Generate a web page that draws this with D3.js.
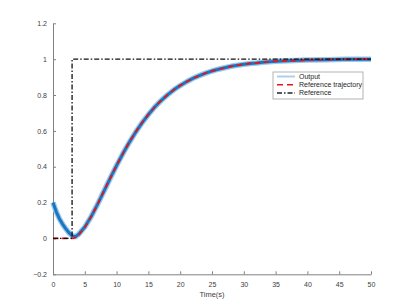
<!DOCTYPE html>
<html>
<head>
<meta charset="utf-8">
<script src="https://cdn.jsdelivr.net/npm/d3@7"></script>
<style>
  body { margin: 0; background: #fff; }
  svg { font-family: "Liberation Sans", Arial, sans-serif; }
  .axis path, .axis line { stroke: #808080; }
  .axis text { fill: #404040; font-size: 7px; }
</style>
</head>
<body>
<div id="chart"></div>
<script>
// Data________________________________________________________
const trajTime = [0, 1, 2, 3, 4, 5, 6, 7, 8, 9, 10, 11, 12, 13, 14, 15, 16, 17, 18, 19, 20,
    21, 22, 23, 24, 25, 26, 27, 28, 29, 30, 31, 32, 33, 35, 37, 40, 43, 46, 50];
const trajValue = [0, 0, 0, 0, 0.018, 0.062, 0.122, 0.191, 0.264, 0.337, 0.408, 0.475, 0.537,
    0.594, 0.645, 0.692, 0.733, 0.769, 0.801, 0.829, 0.853, 0.874, 0.893, 0.908, 0.922,
    0.934, 0.944, 0.952, 0.960, 0.966, 0.971, 0.976, 0.979, 0.983, 0.988, 0.991, 0.995,
    0.997, 0.999, 1.0];

const outTime = [0, 0.5, 1, 1.5, 2, 2.5, 3, 3.5, 4, 5, 6, 7, 8, 9, 10, 11, 12, 13, 14, 15, 16,
    17, 18, 19, 20, 21, 22, 23, 24, 25, 26, 27, 28, 29, 30, 31, 32, 33, 35, 37, 40, 43, 46, 50];
const outValue = [0.2, 0.15, 0.11, 0.08, 0.055, 0.032, 0.015, 0.01, 0.022, 0.064, 0.122, 0.19,
    0.263, 0.336, 0.407, 0.474, 0.536, 0.593, 0.645, 0.691, 0.733, 0.769, 0.801, 0.829, 0.853,
    0.874, 0.893, 0.908, 0.922, 0.934, 0.944, 0.952, 0.960, 0.966, 0.971, 0.976, 0.979, 0.983,
    0.988, 0.991, 0.995, 0.997, 0.999, 1.0];

const refTime = [0, 3, 3, 50];
const refValue = [0, 0, 1, 1];

const xTicks = [0, 5, 10, 15, 20, 25, 30, 35, 40, 45, 50];
const yTicks = [-0.2, 0, 0.2, 0.4, 0.6, 0.8, 1, 1.2];
const legendLabels = ["Output", "Reference trajectory", "Reference"];

// Layout______________________________________________________
const width = 410, height = 308;
const plotLeft = 53, plotRight = 371, plotTop = 23.3, plotBottom = 274.3;

const svg = d3.select("#chart").append("svg")
    .attr("width", width)
    .attr("height", height);

const x = d3.scaleLinear().domain([0, 50]).range([plotLeft, plotRight]);
const y = d3.scaleLinear().domain([-0.2, 1.2]).range([plotBottom, plotTop]);

const line = d3.line()
    .x(d => x(d[0]))
    .y(d => y(d[1]));

const zip = (a, b) => a.map((v, i) => [v, b[i]]);

// Axes (MATLAB style, ticks pointing in)
svg.append("g")
    .attr("class", "axis")
    .attr("transform", `translate(0, ${plotBottom})`)
    .call(d3.axisBottom(x).tickValues(xTicks).tickSizeInner(-3).tickSizeOuter(0).tickPadding(6))
    .call(g => g.selectAll("text").attr("dy", "0.95em"));

svg.append("g")
    .attr("class", "axis")
    .attr("transform", `translate(${plotLeft}, 0)`)
    .call(d3.axisLeft(y).tickValues(yTicks).tickSizeInner(-3).tickSizeOuter(0).tickPadding(6)
        .tickFormat(d3.format("~g")));

svg.append("text")
    .attr("x", (plotLeft + plotRight) / 2)
    .attr("y", 297)
    .attr("text-anchor", "middle")
    .attr("fill", "#404040")
    .style("font-size", "7.5px")
    .text("Time(s)");

// Lines________________________________________________________
const outData = zip(outTime, outValue);
svg.append("path")
    .datum(outData)
    .attr("fill", "none")
    .attr("stroke", "#9cc8ea")
    .attr("stroke-width", 5.5)
    .attr("stroke-linejoin", "round")
    .attr("d", line);
svg.append("path")
    .datum(outData)
    .attr("fill", "none")
    .attr("stroke", "#1a76c0")
    .attr("stroke-width", 3)
    .attr("stroke-linejoin", "round")
    .attr("d", line);

svg.append("path")
    .datum(zip(trajTime, trajValue))
    .attr("fill", "none")
    .attr("stroke", "#e8141b")
    .attr("stroke-width", 1.7)
    .attr("stroke-dasharray", "5.5,3.5")
    .attr("d", d3.line().curve(d3.curveMonotoneX).x(d => x(d[0])).y(d => y(d[1])));

svg.append("path")
    .datum(zip(refTime, refValue))
    .attr("fill", "none")
    .attr("stroke", "#111")
    .attr("stroke-width", 1.3)
    .attr("stroke-dasharray", "5,2,1.5,2")
    .attr("d", line);

// Legend_______________________________________________________
const legend = svg.append("g").attr("transform", "translate(273, 72)");
legend.append("rect")
    .attr("width", 90).attr("height", 27)
    .attr("fill", "#fff")
    .attr("stroke", "#a0a0a0")
    .attr("stroke-width", 0.8);

const legendStyles = [
    { stroke: "#a9d0ee", width: 2, dash: null },
    { stroke: "#e8141b", width: 1.5, dash: "6,4" },
    { stroke: "#222", width: 1.5, dash: "5,2,1.5,2" }
];

legendLabels.forEach((label, i) => {
    const yy = 4.5 + i * 8.2;
    legend.append("line")
        .attr("x1", 4).attr("x2", 22)
        .attr("y1", yy).attr("y2", yy)
        .attr("stroke", legendStyles[i].stroke)
        .attr("stroke-width", legendStyles[i].width)
        .attr("stroke-dasharray", legendStyles[i].dash);
    legend.append("text")
        .attr("x", 26)
        .attr("y", yy + 2.5)
        .attr("fill", "#262626")
        .style("font-size", "7px")
        .text(label);
});
</script>
</body>
</html>
